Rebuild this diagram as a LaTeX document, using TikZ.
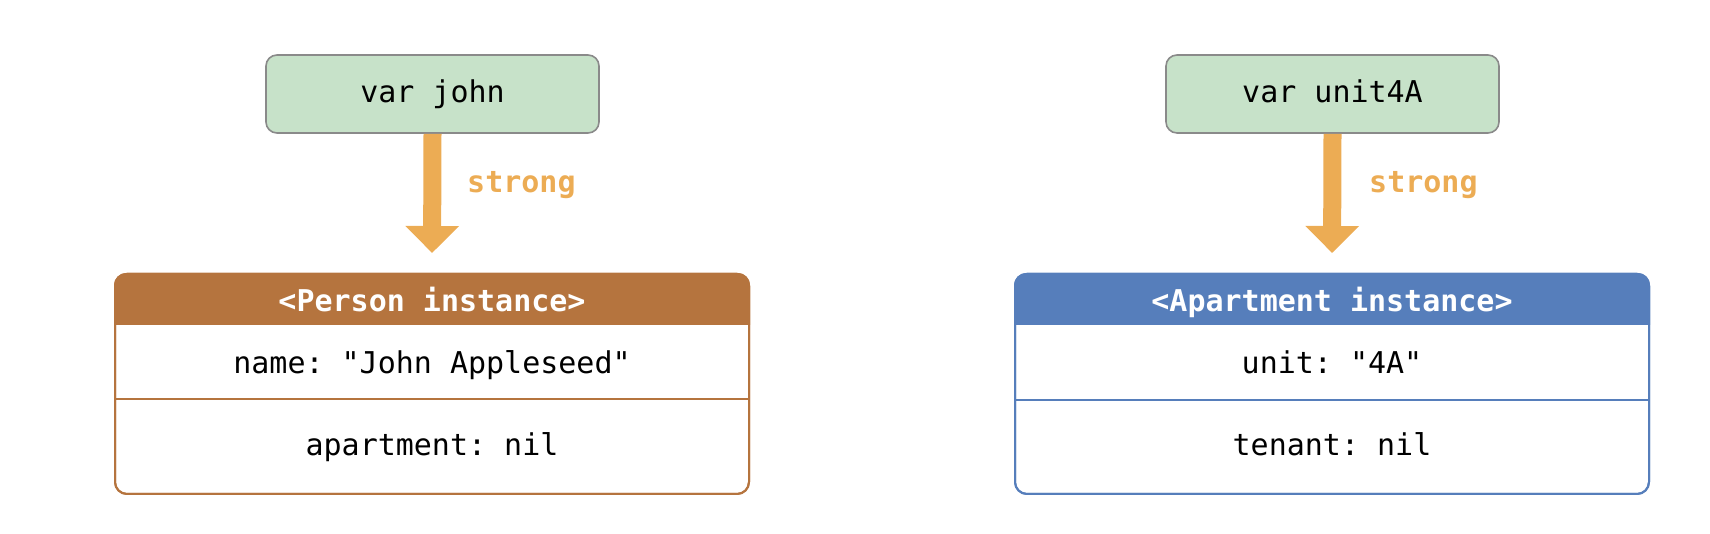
\documentclass[tikz,border=0pt]{standalone}
\usepackage{fontspec}
\setmonofont{DejaVu Sans Mono}
\usetikzlibrary{arrows.meta}
\definecolor{vargreen}{RGB}{199,226,201}
\definecolor{vargray}{RGB}{138,138,138}
\definecolor{strongorange}{RGB}{236,172,84}
\definecolor{personbrown}{RGB}{181,116,62}
\definecolor{aptblue}{RGB}{86,126,187}
\tikzset{
  varbox/.style={draw=vargray, fill=vargreen, line width=1.6pt, rounded corners=11pt,
    minimum width=333pt, minimum height=78pt, inner sep=0pt},
  instbox/.style={draw=#1, line width=2pt, rounded corners=12pt,
    minimum width=634pt, minimum height=220pt, inner sep=0pt},
  vartext/.style={text=black, font=\ttfamily\fontsize{30}{36}\selectfont, inner sep=0pt, anchor=base},
  hdrtext/.style={text=white, font=\ttfamily\bfseries\fontsize{30}{36}\selectfont, inner sep=0pt, anchor=base},
  fieldtext/.style={text=black, font=\ttfamily\fontsize{30}{36}\selectfont, inner sep=0pt, anchor=base},
  stronglabel/.style={text=strongorange, font=\ttfamily\bfseries\fontsize{30}{36}\selectfont, inner sep=0pt, anchor=base west},
  strongarrow/.style={draw=strongorange, line width=18pt,
    -{Triangle[length=27pt, width=52pt]}, shorten >=20pt},
  divider/.style={draw=#1, line width=2pt}
}
\begin{document}
\begin{tikzpicture}[x=1pt,y=1pt]
\useasboundingbox (0,0) rectangle (1710,534);

% ---------- Left: Person ----------
\node[varbox] (john) at (432.5,440) {};
\node[vartext] (johntext) at (432.5,431.5) {var john};
\node[instbox=personbrown] (person) at (432,150) {};
\begin{scope}
  \clip ([xshift=-3pt,yshift=3pt]person.north west) rectangle ([xshift=3pt,yshift=-52pt]person.north east);
  \fill[personbrown, rounded corners=12pt] (person.north west) rectangle (person.south east);
\end{scope}
\node[instbox=personbrown] at (person.center) {};
\node[hdrtext] (personhdr) at (432,222.3) {<Person instance>};
\node[fieldtext] (personname) at (432,160) {name: "John Appleseed"};
\coordinate (pdl) at (person.west |- 0,134.5);
\coordinate (pdr) at (person.east |- 0,134.5);
\draw[divider=personbrown] (pdl) -- (pdr);
\node[fieldtext] (personapt) at (432,78) {apartment: nil};
\draw[strongarrow] (john.south) -- (person.north);
\node[stronglabel] (strong1) at (467,341.5) {strong};

% ---------- Right: Apartment ----------
\node[varbox] (unit) at (1332.5,440) {};
\node[vartext] (unittext) at (1332.5,431.5) {var unit4A};
\node[instbox=aptblue] (apt) at (1332,150) {};
\begin{scope}
  \clip ([xshift=-3pt,yshift=3pt]apt.north west) rectangle ([xshift=3pt,yshift=-52pt]apt.north east);
  \fill[aptblue, rounded corners=12pt] (apt.north west) rectangle (apt.south east);
\end{scope}
\node[instbox=aptblue] at (apt.center) {};
\node[hdrtext] (apthdr) at (1332,222.3) {<Apartment instance>};
\node[fieldtext] (aptunit) at (1332,160) {unit: "4A"};
\coordinate (adl) at (apt.west |- 0,133.5);
\coordinate (adr) at (apt.east |- 0,133.5);
\draw[divider=aptblue] (adl) -- (adr);
\node[fieldtext] (apttenant) at (1332,78) {tenant: nil};
\draw[strongarrow] (unit.south) -- (apt.north);
\node[stronglabel] (strong2) at (1369,341.5) {strong};
\end{tikzpicture}
\end{document}
